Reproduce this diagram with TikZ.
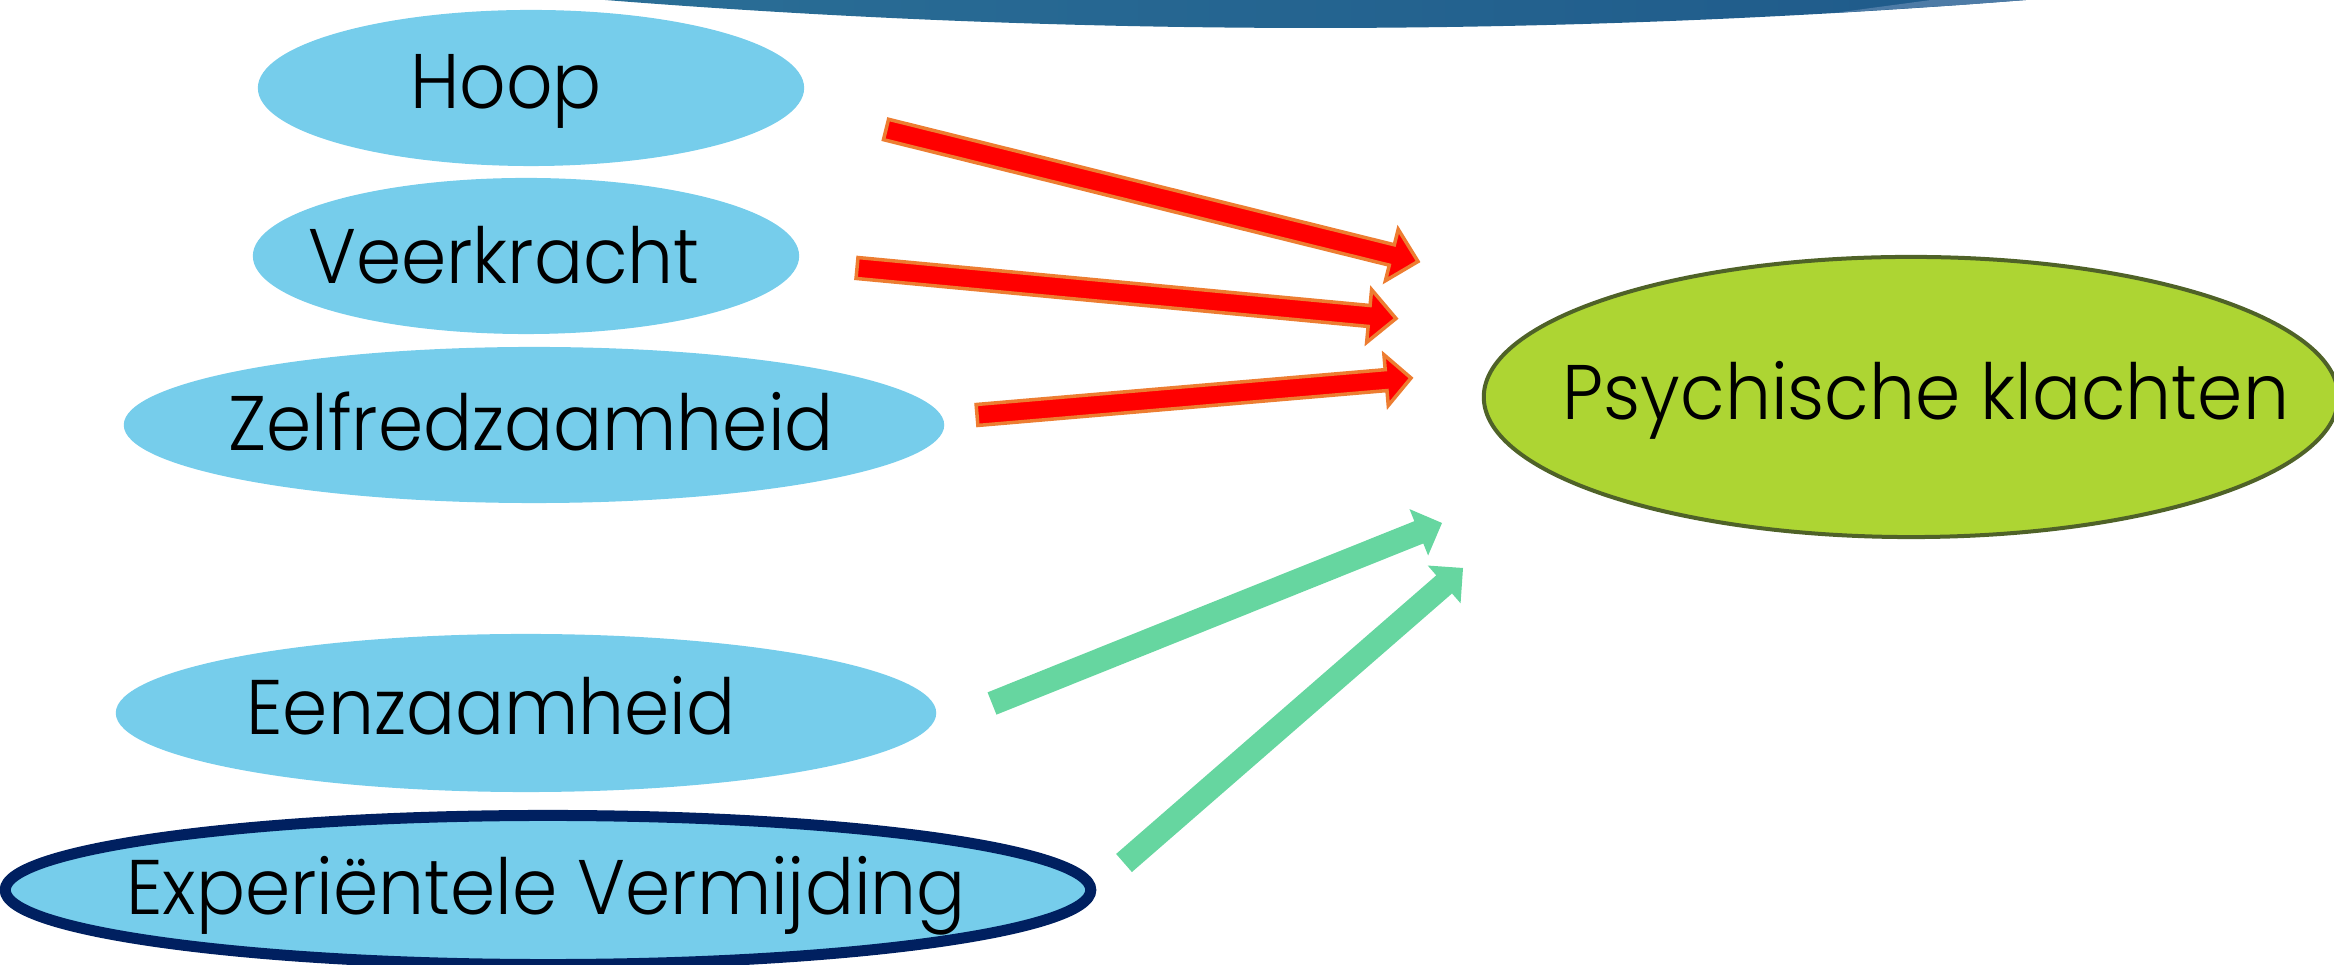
\documentclass[tikz,border=0pt]{standalone}
\usepackage{fontspec}
\setmainfont{Poppins}[UprightFont={* Light}, FakeStretch=0.94]
\usetikzlibrary{calc,shapes.geometric}
\definecolor{blobblue}{HTML}{76CDEB}
\definecolor{navyb}{HTML}{002060}
\definecolor{limeg}{HTML}{ADD533}
\definecolor{oliveb}{HTML}{4F6228}
\definecolor{arrred}{HTML}{FF0000}
\definecolor{arrorange}{HTML}{ED7D31}
\definecolor{arrgreen}{HTML}{66D6A0}
\definecolor{bandL}{HTML}{2A6E96}
\definecolor{bandM}{HTML}{3592AB}
\definecolor{bandR}{HTML}{1F5A8A}
\definecolor{bandW}{HTML}{4D7BA6}
% #1 style, #2 tail, #3 tip, #4 prefix, #5 half shaft, #6 half head, #7 head length
\newcommand{\blockarrow}[7]{%
  \coordinate (#4hb) at ($(#3)!#7!(#2)$);
  \path[#1] ($(#2)!#5!90:(#3)$) -- ($(#4hb)!#5!90:(#3)$) -- ($(#4hb)!#6!90:(#3)$) -- (#3)
     -- ($(#4hb)!#6!-90:(#3)$) -- ($(#4hb)!#5!-90:(#3)$) -- ($(#2)!#5!-90:(#3)$) -- cycle;
}
\tikzset{
  blob/.style={ellipse, fill=blobblue, inner sep=0pt, draw=none},
  txt/.style={anchor=base, inner sep=0pt, font=\fontsize{22}{26}\selectfont},
  redarrow/.style={fill=arrred, draw=arrorange, line width=0.035cm, line join=miter},
  greenarrow/.style={fill=arrgreen},
}
\begin{document}
\begin{tikzpicture}[x=0.01cm,y=-0.01cm]
\useasboundingbox (0,0) rectangle (2334,965);
\clip (0,0) rectangle (2334,965);
% top band
\shade[left color=bandL, middle color=bandM, right color=bandR]
  (605,-2) -- (605,0) .. controls (1078.7,37.3) and (1552.3,37.3) .. (2026,0) -- (2026,-2) -- cycle;
\fill[bandW] (1931,0) -- (2026,0) -- (1960,5) -- (1834,13) -- cycle;
% left ellipses
\node[blob, minimum width=5.46cm, minimum height=1.56cm] (hoop) at (531,88) {};
\node[blob, minimum width=5.46cm, minimum height=1.56cm] (veer) at (526,256) {};
\node[blob, minimum width=8.20cm, minimum height=1.56cm] (zelf) at (534,425) {};
\node[blob, minimum width=8.20cm, minimum height=1.58cm] (eenz) at (526,713) {};
\node[blob, draw=navyb, line width=0.11cm, minimum width=10.85cm, minimum height=1.49cm] (exp) at (548,890) {};
% target ellipse
\node[ellipse, fill=limeg, draw=oliveb, line width=0.04cm, inner sep=0pt,
      minimum width=8.54cm, minimum height=2.80cm] (psy) at (1911,397) {};
% texts
\node[txt] (hoopT) at (506,109) {Hoop};
\node[txt] (veerT) at (504,284) {Veerkracht};
\node[txt] (zelfT) at (531,451) {Zelfredzaamheid};
\node[txt] (eenzT) at (491,735) {Eenzaamheid};
\node[txt] (expT) at (546,915) {Experiëntele Vermijding};
\node[txt] (psyT) at (1926,420) {Psychische klachten};
% arrow end points
\coordinate (r1a) at (886,129.5);  \coordinate (r1b) at (1418,261.5);
\coordinate (r2a) at (857,268);    \coordinate (r2b) at (1396,318.5);
\coordinate (r3a) at (977,415);    \coordinate (r3b) at (1411,378);
\coordinate (g1a) at (992,703.5);  \coordinate (g1b) at (1442,523);
\coordinate (g2a) at (1124,863);   \coordinate (g2b) at (1463,568);
% red block arrows
\blockarrow{redarrow}{r1a}{r1b}{r1}{0.105cm}{0.265cm}{0.27cm}
\blockarrow{redarrow}{r2a}{r2b}{r2}{0.105cm}{0.265cm}{0.27cm}
\blockarrow{redarrow}{r3a}{r3b}{r3}{0.105cm}{0.255cm}{0.25cm}
% green arrows
\blockarrow{greenarrow}{g1a}{g1b}{g1}{0.12cm}{0.25cm}{0.25cm}
\blockarrow{greenarrow}{g2a}{g2b}{g2}{0.12cm}{0.25cm}{0.25cm}
\end{tikzpicture}
\end{document}
